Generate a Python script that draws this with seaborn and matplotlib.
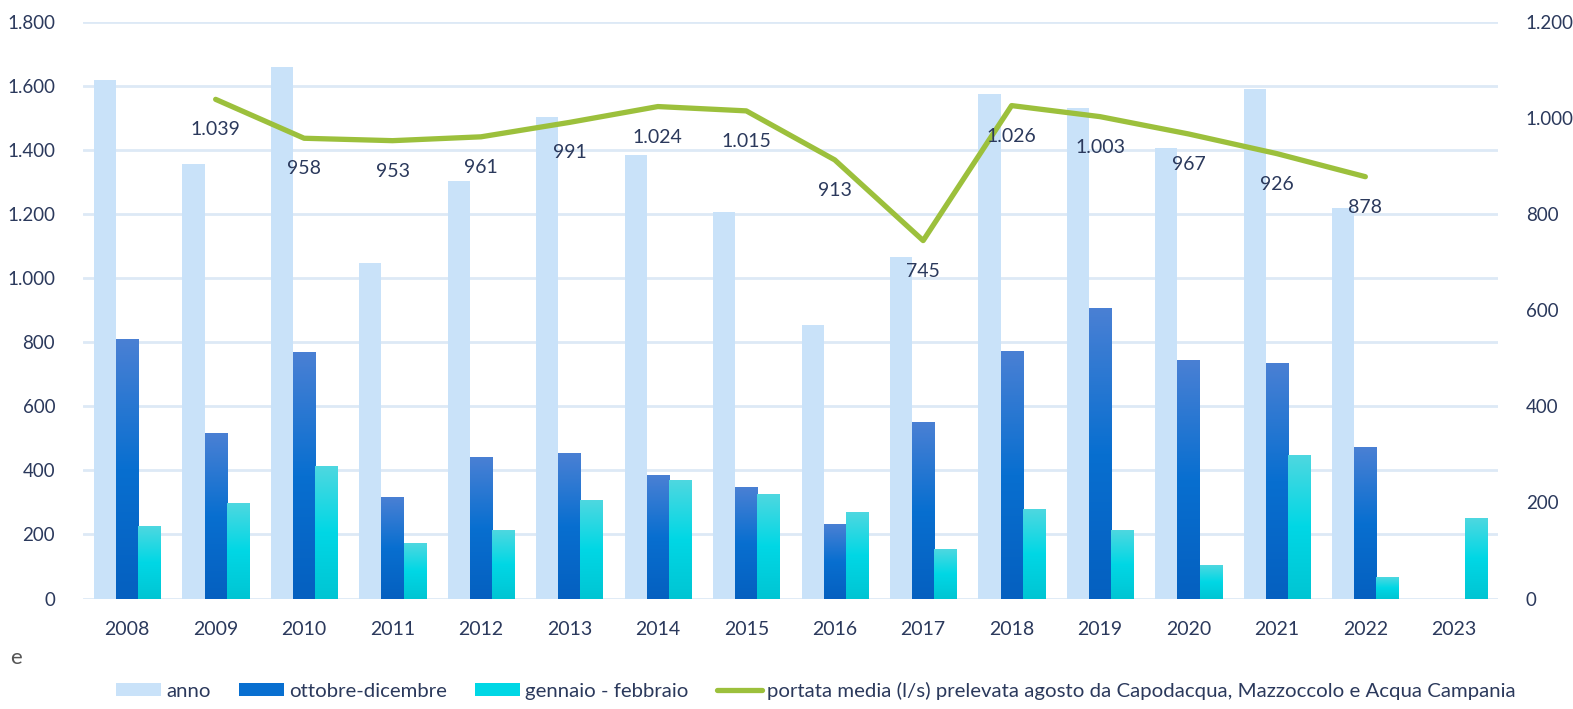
import numpy as np
import pandas as pd
import matplotlib
matplotlib.use("Agg")
import matplotlib.pyplot as plt
from matplotlib.colors import LinearSegmentedColormap
from matplotlib.patches import Patch
from matplotlib.lines import Line2D
import seaborn as sns

years = [str(y) for y in range(2008, 2024)]
anno = [1619, 1358, 1661, 1049, 1304, 1504, 1385, 1206, 853, 1067, 1574, 1532, 1408, 1592, 1218, np.nan]
ott_dic = [810, 516, 770, 316, 441, 454, 385, 348, 234, 550, 772, 906, 745, 736, 473, np.nan]
gen_feb = [226, 299, 415, 173, 215, 307, 371, 325, 270, 155, 279, 215, 105, 449, 68, 251]
portata_years = [str(y) for y in range(2009, 2023)]
portata = [1039, 958, 953, 961, 991, 1024, 1015, 913, 745, 1026, 1003, 967, 926, 878]

series_names = ["anno", "ottobre-dicembre", "gennaio - febbraio"]
line_label = "portata media (l/s) prelevata agosto da Capodacqua, Mazzoccolo e Acqua Campania"

c_anno = "#c9e2f9"
ott_grad = ["#4a80d4", "#086fd0", "#0560c0"]
gen_grad = ["#4ed8e0", "#00d7e5", "#00c5d3"]
c_line = "#9cc03c"
c_text = "#2b395c"
c_grid = "#dde9f6"

sns.set_theme(style="white")
plt.rcParams["font.family"] = ["Lato", "DejaVu Sans"]

df = pd.DataFrame({
    "year": years * 3,
    "serie": [series_names[0]] * 16 + [series_names[1]] * 16 + [series_names[2]] * 16,
    "value": anno + ott_dic + gen_feb,
})

fig = plt.figure(figsize=(15.73, 7.09), dpi=100)
ax = fig.add_axes([83 / 1573, 1 - 598.5 / 709, (1498 - 83) / 1573, (598.5 - 22) / 709])

sns.barplot(data=df, x="year", y="value", hue="serie", order=years,
            hue_order=series_names,
            palette=[c_anno, ott_grad[1], gen_grad[1]],
            width=0.75, errorbar=None, ax=ax, legend=False, saturation=1,
            linewidth=0)

ax.set_xlim(-0.5, 15.5)
ax.set_ylim(0, 1800)


def gradient_fill(patch, colors):
    x, y = patch.get_x(), patch.get_y()
    w, h = patch.get_width(), patch.get_height()
    if not np.isfinite(h) or h <= 0:
        return
    cmap = LinearSegmentedColormap.from_list("g", colors)
    grad = np.linspace(0, 1, 256).reshape(-1, 1)
    im = ax.imshow(grad, extent=[x, x + w, y, y + h], origin="upper",
                   aspect="auto", cmap=cmap, zorder=patch.get_zorder(),
                   interpolation="bilinear")
    im.set_clip_path(patch)
    patch.set_facecolor("none")


for patch in ax.containers[1]:
    gradient_fill(patch, ott_grad)
for patch in ax.containers[2]:
    gradient_fill(patch, gen_grad)

ax.set_xlim(-0.5, 15.5)
ax.set_ylim(0, 1800)
ax.set_yticks(range(0, 1801, 200))
ax.set_yticklabels([f"{v:,}".replace(",", ".") for v in range(0, 1801, 200)])
ax.yaxis.grid(True, color=c_grid, linewidth=2)
ax.set_axisbelow(True)
ax.set_xlabel("")
ax.set_ylabel("")
for s in ax.spines.values():
    s.set_visible(False)
ax.tick_params(axis="both", length=0, labelsize=14, colors=c_text)
ax.tick_params(axis="y", pad=20, labelsize=13.5)
ax.tick_params(axis="x", pad=16)

ax2 = ax.twinx()
px = [years.index(y) for y in portata_years]
sns.lineplot(x=px, y=portata, ax=ax2, color=c_line, linewidth=3.8,
             solid_capstyle="round", solid_joinstyle="round")
ax2.set_ylim(0, 1200)
ax2.set_xlim(-0.5, 15.5)
ax2.set_yticks(range(0, 1201, 200))
ax2.set_yticklabels([f"{v:,}".replace(",", ".") for v in range(0, 1201, 200)])
for s in ax2.spines.values():
    s.set_visible(False)
ax2.tick_params(axis="y", length=0, labelsize=13.5, colors=c_text, pad=20)
ax2.grid(False)
ax2.set_ylabel("")

for xi, v in zip(px, portata):
    ax2.annotate(f"{v:,}".replace(",", "."), (xi, v), xytext=(0, -22),
                 textcoords="offset points", ha="center", va="center",
                 fontsize=14, color=c_text)

handles = [
    Patch(facecolor=c_anno, edgecolor="none"),
    Patch(facecolor=ott_grad[1], edgecolor="none"),
    Patch(facecolor=gen_grad[1], edgecolor="none"),
    Line2D([0], [0], color=c_line, linewidth=3.8, solid_capstyle="round"),
]
fig.legend(handles, series_names + [line_label], loc="center",
           bbox_to_anchor=(816 / 1573, 1 - 691 / 709), ncol=4, frameon=False,
           fontsize=14.7, labelcolor=c_text, handlelength=2.2, handleheight=0.6,
           handletextpad=0.25, columnspacing=1.4)

fig.text(10 / 1573, 1 - 658 / 709, "e", fontsize=16, color="#555555",
         ha="left", va="center")

fig.savefig("out.png", dpi=100)
